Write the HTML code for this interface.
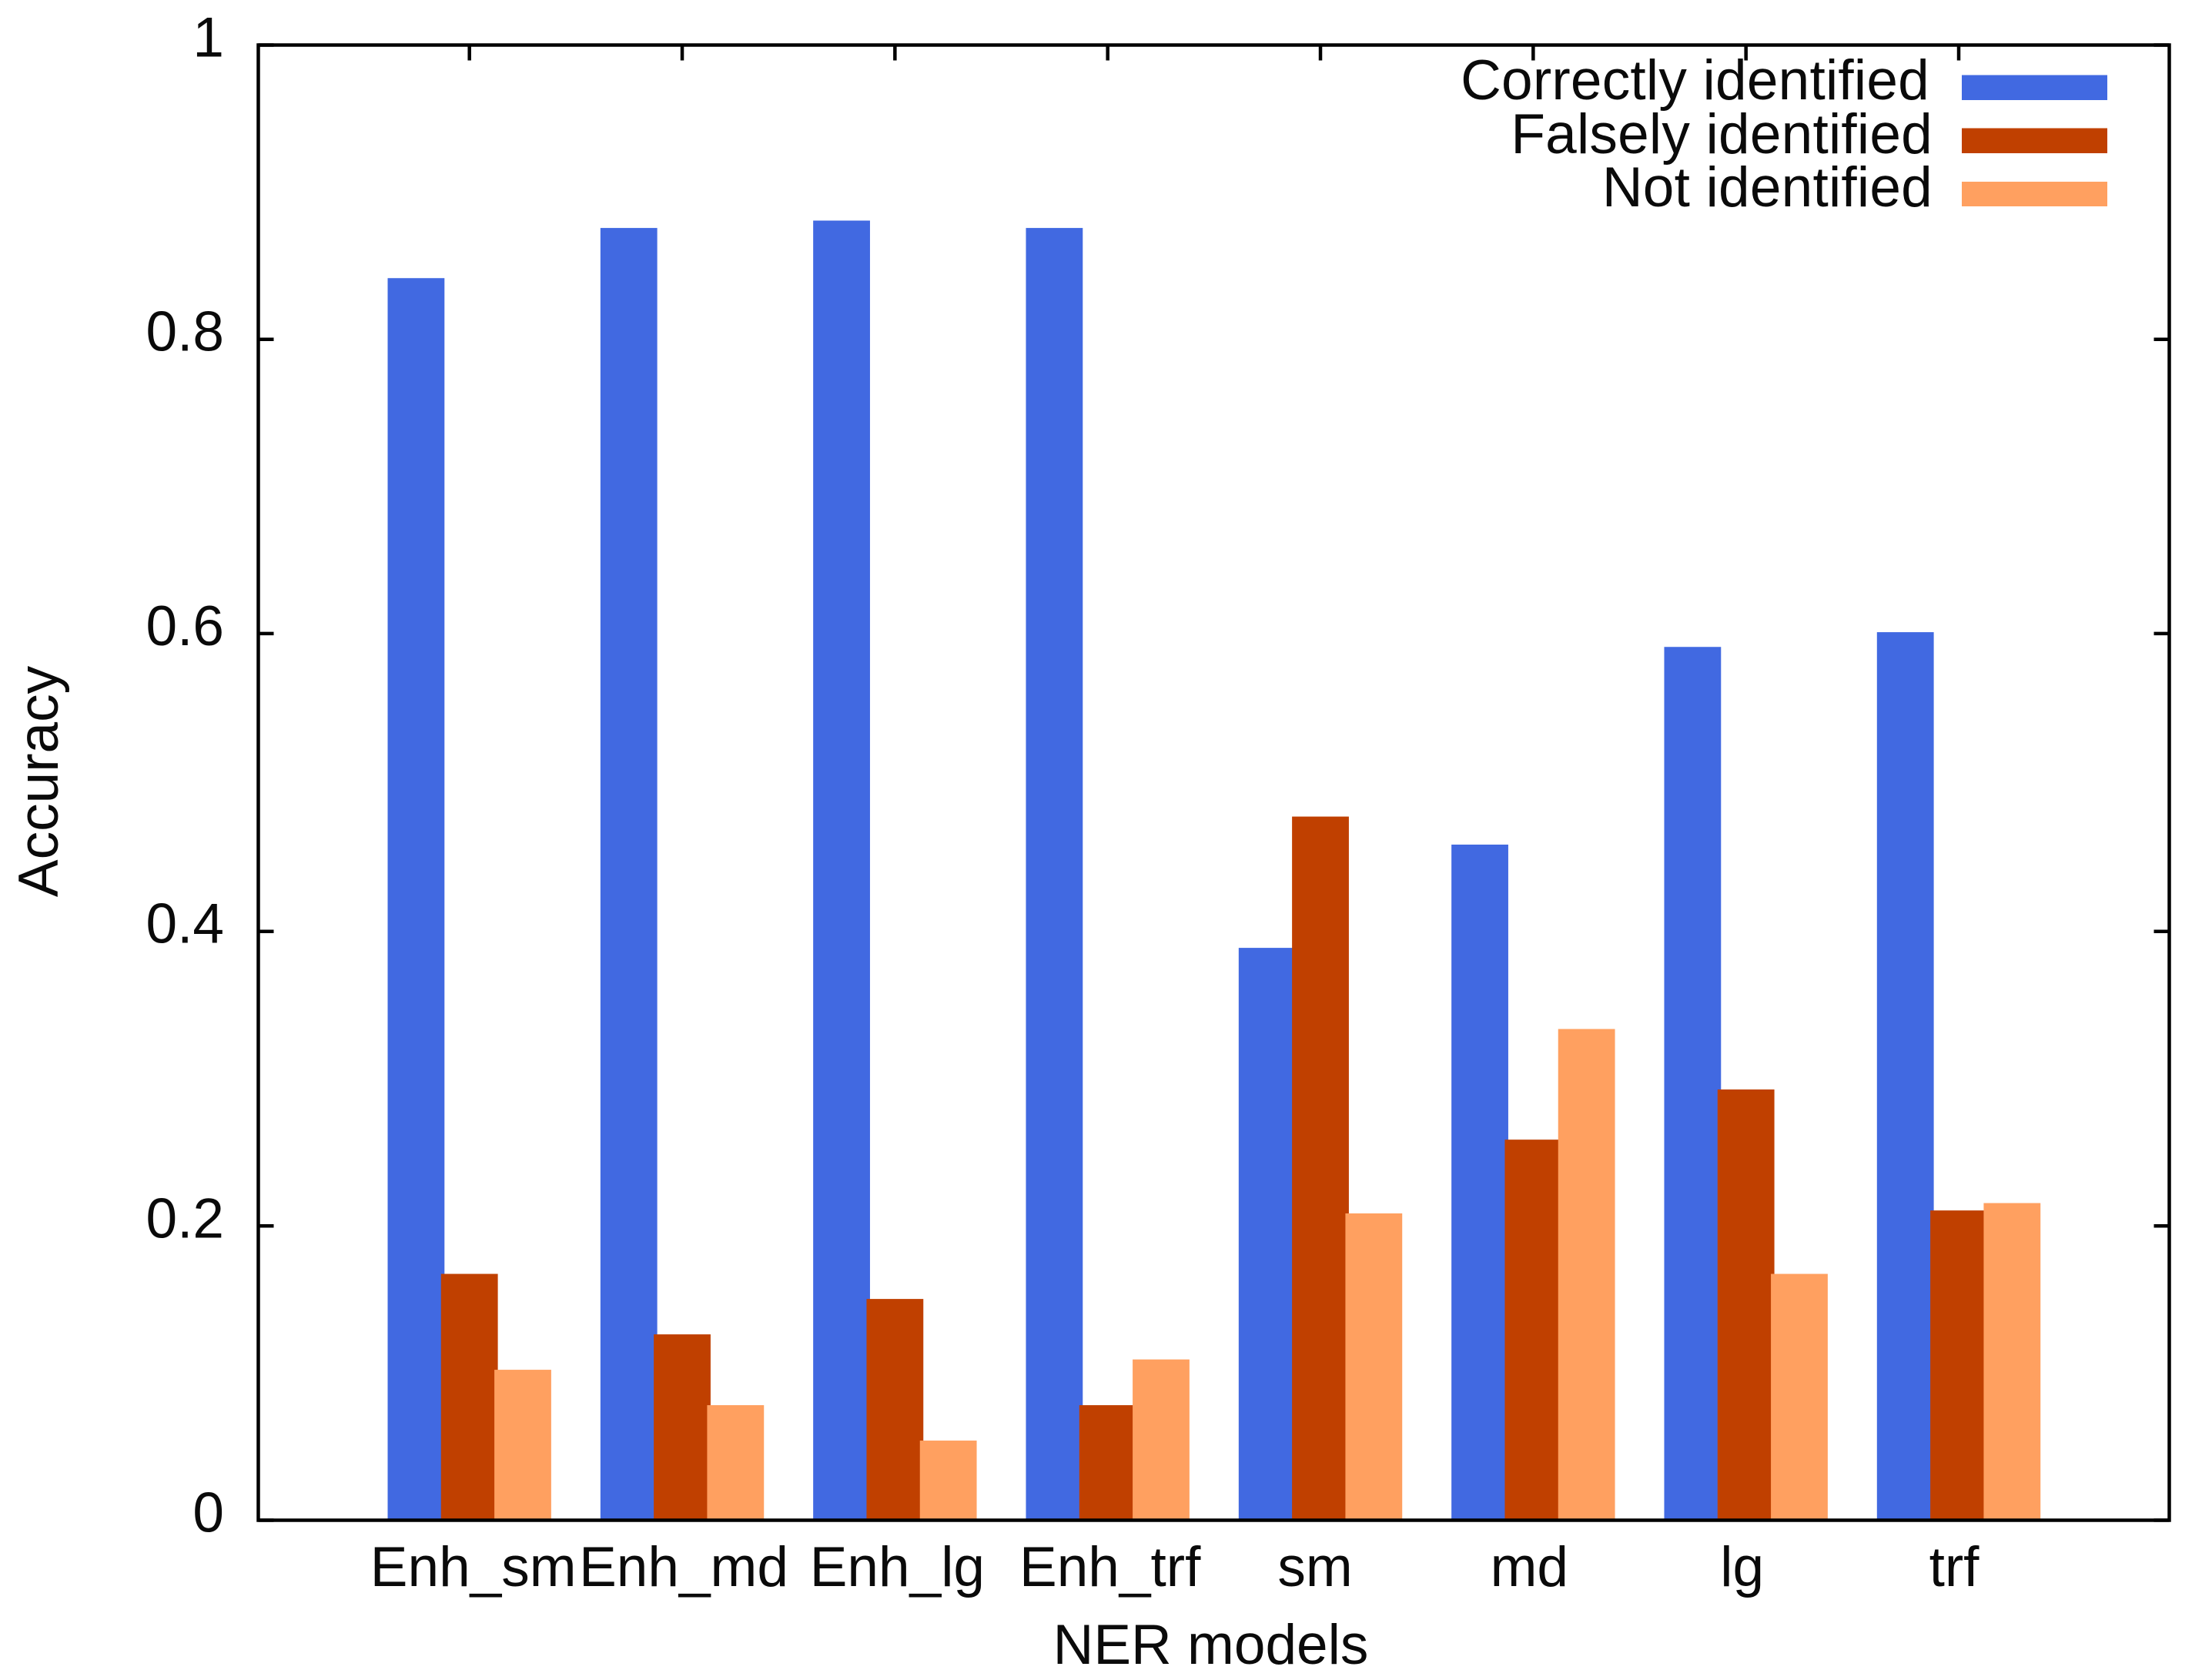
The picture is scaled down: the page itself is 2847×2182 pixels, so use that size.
<!DOCTYPE html>
<html lang="en">
<head>
<meta charset="utf-8">
<title>NER model accuracy</title>
<style>
html,body{margin:0;padding:0;background:#fff;}
svg{display:block;}
text{font-family:"Liberation Sans",sans-serif;font-size:73px;fill:#0a0a0a;}
.legend-text{letter-spacing:0.22px;}
</style>
</head>
<body>
<svg id="chart" xmlns="http://www.w3.org/2000/svg" width="2847" height="2182" viewBox="0 0 2847 2182">
  <rect x="0" y="0" width="2847" height="2182" fill="#ffffff"/>
  <g id="ticks"></g>
  <g id="bars"></g>
  <rect x="335.5" y="58.5" width="2482" height="1916" fill="none" stroke="#000" stroke-width="4.5"/>
  <g id="tick-labels"></g>
  <text transform="translate(75 1015) rotate(-90)" text-anchor="middle">Accuracy</text>
  <text x="1572.5" y="2161" text-anchor="middle">NER models</text>
  <g>
    <g>
      <text class="legend-text" x="2506" y="129" text-anchor="end">Correctly identified</text>
      <rect x="2548" y="97.5" width="189" height="32.5" fill="#4169e1"/>
    </g>
    <g>
      <text class="legend-text" x="2510" y="199" text-anchor="end">Falsely identified</text>
      <rect x="2548" y="166.5" width="189" height="32.5" fill="#c04000"/>
    </g>
    <g>
      <text class="legend-text" x="2510" y="268" text-anchor="end">Not identified</text>
      <rect x="2548" y="236" width="189" height="32" fill="#ffa060"/>
    </g>
  </g>
</svg>
<script>
const categories = ["Enh_sm", "Enh_md", "Enh_lg", "Enh_trf", "sm", "md", "lg", "trf"];
const correctlyIdentified = [0.842, 0.876, 0.881, 0.876, 0.388, 0.458, 0.592, 0.602];
const falselyIdentified = [0.167, 0.126, 0.150, 0.078, 0.477, 0.258, 0.292, 0.210];
const notIdentified = [0.102, 0.078, 0.054, 0.109, 0.208, 0.333, 0.167, 0.215];
const yTickValues = [0, 0.2, 0.4, 0.6, 0.8, 1];
const yTickLabels = ["0", "0.2", "0.4", "0.6", "0.8", "1"];

const NS = "http://www.w3.org/2000/svg";
const PLOT_LEFT = 335.5, PLOT_RIGHT = 2817.5, PLOT_TOP = 58.5, PLOT_BOTTOM = 1974.5;
const FIRST_CATEGORY_X = 609.7, CATEGORY_PITCH = 276.33;
const BAR_STEP = 69.3, BAR_WIDTH = 73.8;
const TICK_LENGTH = 20;
// gnuplot's hinted text and pixel-snapped ticks sit slightly off their ideal spots
const LABEL_NUDGE = [5, 2, 3, 3, -7, -5, -5, -6];
const Y_TICK_NUDGE = [0, 1, 1.6, -2, -1, 0];

function xScale(categoryIndex) {
  return FIRST_CATEGORY_X + CATEGORY_PITCH * categoryIndex;
}
function yScale(value) {
  return PLOT_BOTTOM - (PLOT_BOTTOM - PLOT_TOP) * value;
}
function make(tag, attrs, parent) {
  const el = document.createElementNS(NS, tag);
  Object.keys(attrs).forEach(function (k) { el.setAttribute(k, attrs[k]); });
  parent.appendChild(el);
  return el;
}

const ticksLayer = document.getElementById("ticks");
const barsLayer = document.getElementById("bars");
const labelsLayer = document.getElementById("tick-labels");

yTickValues.forEach(function (value, i) {
  const y = yScale(value) + Y_TICK_NUDGE[i];
  const left = make("line", {x1: PLOT_LEFT, x2: PLOT_LEFT + TICK_LENGTH, y1: y, y2: y, stroke: "#000", "stroke-width": 4.5}, ticksLayer);
  
  
  const right = make("line", {x1: PLOT_RIGHT - TICK_LENGTH, x2: PLOT_RIGHT, y1: y, y2: y, stroke: "#000", "stroke-width": 4.5}, ticksLayer);
  
  
  const label = make("text", {x: 291, y: y + 15, "text-anchor": "end"}, labelsLayer);
  label.textContent = yTickLabels[i];
  
  
});

categories.forEach(function (name, i) {
  const x = xScale(i);
  const top = make("line", {x1: x, x2: x, y1: PLOT_TOP, y2: PLOT_TOP + TICK_LENGTH, stroke: "#000", "stroke-width": 4.5}, ticksLayer);
  
  
  const bottom = make("line", {x1: x, x2: x, y1: PLOT_BOTTOM - TICK_LENGTH, y2: PLOT_BOTTOM, stroke: "#000", "stroke-width": 4.5}, ticksLayer);
  
  
  const label = make("text", {x: x + LABEL_NUDGE[i], y: 2060, "text-anchor": "middle"}, labelsLayer);
  label.textContent = name;
  
  

  function drawBar(value, offsetSteps, fill, barName) {
    const y = yScale(value);
    const bar = make("rect", {
      x: x + offsetSteps * BAR_STEP - BAR_WIDTH / 2,
      y: y,
      width: BAR_WIDTH,
      height: PLOT_BOTTOM - y,
      fill: fill
    }, barsLayer);
    
    
  }
  drawBar(correctlyIdentified[i], -1, "#4169e1", "bar-correctly-identified");
  drawBar(falselyIdentified[i], 0, "#c04000", "bar-falsely-identified");
  drawBar(notIdentified[i], 1, "#ffa060", "bar-not-identified");
});
</script>
</body>
</html>
